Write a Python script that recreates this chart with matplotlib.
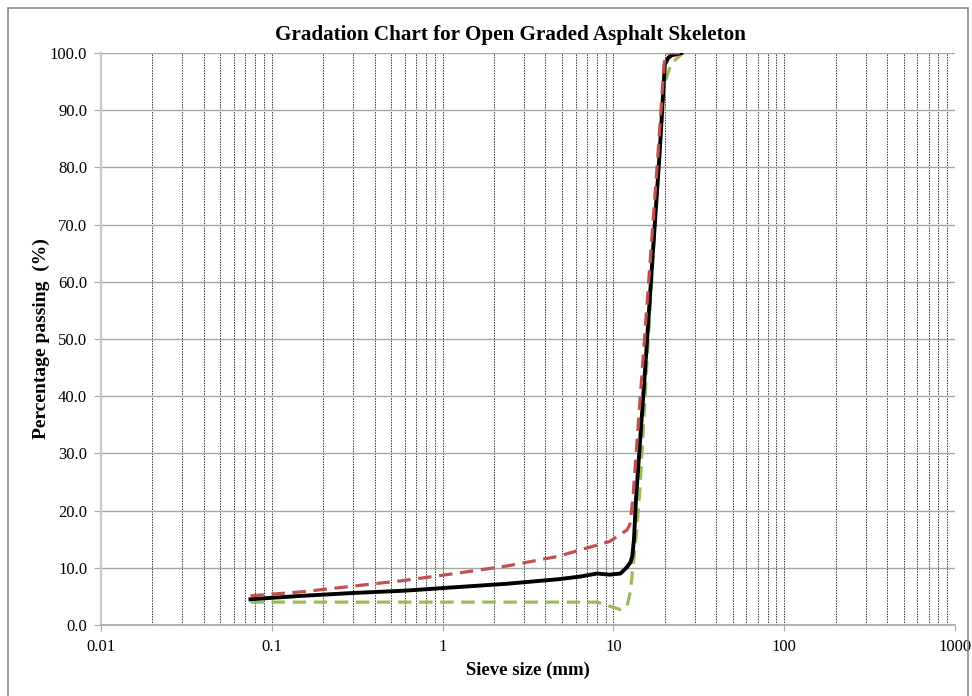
import matplotlib
matplotlib.use("Agg")
import matplotlib.pyplot as plt
from matplotlib.ticker import FixedLocator, LogLocator, NullFormatter
from matplotlib.patches import Rectangle

# sieve sizes (mm) and percentage passing
black_size = [0.075, 0.15, 0.3, 0.6, 1.18, 2.36, 4.75, 6.5, 8.0, 9.5, 11.0, 12.0,
              12.6, 12.9, 13.2, 13.55, 15.2, 17.07, 18.6, 20.0, 21.0, 22.0, 25.0]
black_pass = [4.5, 5.1, 5.6, 6.0, 6.6, 7.2, 8.0, 8.5, 9.0, 8.8, 9.0, 10.1,
              11.0, 12.0, 15.0, 21.9, 43.0, 65.6, 82.0, 98.0, 99.2, 99.6, 100.0]

red_size = [0.075, 0.15, 0.3, 0.6, 1.18, 2.36, 4.75, 9.5, 12.0, 12.5, 13.0,
            14.7, 16.6, 18.2, 19.8, 20.3, 25.0]
red_pass = [5.1, 5.8, 6.8, 7.8, 9.0, 10.3, 12.0, 14.6, 16.6, 17.6, 22.0,
            44.0, 65.6, 82.0, 98.0, 100.0, 100.0]

green_size = [0.075, 0.15, 0.3, 0.6, 1.18, 2.36, 4.75, 8.0, 9.5, 11.0, 12.0,
              12.6, 13.7, 14.3, 15.6, 17.1, 18.6, 20.0, 21.4, 22.3, 25.0]
green_pass = [4.0, 4.0, 4.0, 4.0, 4.0, 4.0, 4.0, 4.0, 3.3, 2.7, 3.2,
              6.0, 16.6, 23.6, 44.0, 65.0, 82.0, 94.8, 97.5, 98.4, 99.8]

x_ticks = [0.01, 0.1, 1, 10, 100, 1000]
x_labels = ["0.01", "0.1", "1", "10", "100", "1000"]
y_ticks = list(range(0, 101, 10))

plt.rcParams["font.family"] = ["Liberation Serif", "DejaVu Serif"]

fig = plt.figure(figsize=(9.72, 6.96), dpi=100)
ax = fig.add_axes([101 / 972, 1 - 625 / 696, 854 / 972, 572 / 696])

ax.plot(black_size, black_pass, color="black", lw=2.8, zorder=4,
        solid_joinstyle="round")
ax.plot(red_size, red_pass, color="#c0504d", lw=2.3, dashes=(4.2, 2.4), zorder=5)
ax.plot(green_size, green_pass, color="#9bbb59", lw=2.3, dashes=(4.2, 2.4), zorder=3)

ax.set_xscale("log")
ax.set_xlim(0.01, 1000)
ax.set_ylim(0, 100)
ax.xaxis.set_major_locator(FixedLocator(x_ticks))
ax.set_xticklabels(x_labels)
ax.xaxis.set_minor_locator(LogLocator(base=10, subs=range(2, 10), numticks=20))
ax.xaxis.set_minor_formatter(NullFormatter())
ax.set_yticks(y_ticks)
ax.set_yticklabels([f"{v:.1f}" for v in y_ticks])

ax.grid(axis="y", which="major", color="#a6a6a6", lw=1.0, zorder=1)
ax.grid(axis="x", which="both", color="#333333", lw=0.7, ls=(0, (1.5, 1.2)), zorder=1)

for s in ["top", "right"]:
    ax.spines[s].set_visible(False)
ax.spines["left"].set_color("#c8c8c8")
ax.spines["left"].set_linewidth(1.6)
ax.spines["bottom"].set_color("#a6a6a6")
ax.spines["bottom"].set_linewidth(1.2)

ax.tick_params(axis="both", which="major", labelsize=12, length=5, width=0.8,
               color="#a6a6a6", pad=5)
ax.tick_params(axis="x", which="minor", length=0)
ax.tick_params(axis="x", which="major", length=4, pad=6)

ax.set_xlabel("Sieve size (mm)", fontsize=13.5, fontweight="bold", labelpad=5)
ax.set_ylabel("Percentage passing  (%)", fontsize=14, fontweight="bold", labelpad=0)
fig.text(510 / 972, 1 - 35 / 696, "Gradation Chart for Open Graded Asphalt Skeleton",
         ha="center", va="center", fontsize=15.2, fontweight="bold")

# outer chart border
fig.patches.append(Rectangle((8 / 972, -0.05), 960 / 972, 1.05 - 8 / 696,
                             transform=fig.transFigure, fill=False,
                             edgecolor="#8c8c8c", lw=1.2))

fig.savefig("out.png", dpi=100)
